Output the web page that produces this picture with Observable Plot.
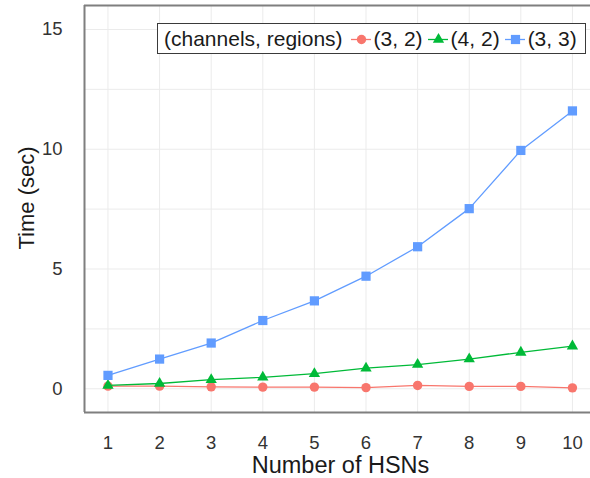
<!DOCTYPE html>
<html>
<head>
<meta charset="utf-8">
<script src="https://cdn.jsdelivr.net/npm/d3@7"></script>
<script src="https://cdn.jsdelivr.net/npm/@observablehq/plot@0.6"></script>
<style>
  body { margin: 0; background: #fff; font-family: "Liberation Sans", Arial, sans-serif; }
  #wrap { position: relative; width: 590px; height: 478px; overflow: hidden; }
  #legend {
    position: absolute; left: 157px; top: 23px; width: 427px; height: 29px;
    border: 1.6px solid #3a3a3a; background: #fff;
    display: flex; align-items: center; font-size: 21px; color: #1a1a1a;
    box-sizing: content-box; white-space: nowrap;
  }
  #legend .title { margin-left: 6px; margin-right: 8px; }
  #legend .item { display: flex; align-items: center; margin-right: 5px; }
  #legend svg { margin-right: 3px; }
</style>
</head>
<body>
<div id="wrap"><div id="legend"></div></div>
<script>
const hsn = [1, 2, 3, 4, 5, 6, 7, 8, 9, 10];
const series = ["(3, 2)", "(4, 2)", "(3, 3)"];
const time32 = [0.11, 0.11, 0.08, 0.07, 0.07, 0.05, 0.14, 0.10, 0.10, 0.04];
const time42 = [0.14, 0.22, 0.38, 0.48, 0.63, 0.86, 1.01, 1.24, 1.52, 1.78];
const time33 = [0.56, 1.24, 1.91, 2.85, 3.67, 4.70, 5.93, 7.52, 9.95, 11.60];
const yTicks = [0, 5, 10, 15];
const yGrid = [0, 2.5, 5, 7.5, 10, 12.5, 15];
const colors = ["#F8766D", "#00BA38", "#619CFF"];
const symbols = ["circle", "triangle", "square"];
const radii = [4.7, 4.2, 5.2];
const legendTitle = "(channels, regions)";

const values = [time32, time42, time33];
const data = series.flatMap((s, i) => hsn.map((x, j) => ({x, y: values[i][j], s})));

const xDom = [0.545, 10.35];
const yDom = [-0.99, 16];

const marks = [
  Plot.gridX(hsn, {stroke: "#ebebeb", strokeOpacity: 1, strokeWidth: 1}),
  Plot.gridY(yGrid, {stroke: "#ebebeb", strokeOpacity: 1, strokeWidth: 1}),
];
series.forEach((s, i) => {
  const sub = data.filter(d => d.s === s);
  marks.push(Plot.line(sub, {x: "x", y: "y", stroke: colors[i], strokeWidth: 1.3}));
  marks.push(Plot.dot(sub, {x: "x", y: "y", fill: colors[i], symbol: symbols[i], r: radii[i], stroke: "none"}));
});
marks.push(
  Plot.ruleX([xDom[0]], {stroke: "#7f7f7f", strokeWidth: 2}),
  Plot.ruleY([yDom[0], yDom[1]], {stroke: "#7f7f7f", strokeWidth: 2}),
  Plot.axisX(hsn, {tickSize: 0, tickPadding: 23, fontSize: 18.5, fill: "#333", label: null, tickFormat: d => String(d)}),
  Plot.axisY(yTicks, {tickSize: 0, tickPadding: 22, fontSize: 18.5, fill: "#333", label: null, tickFormat: d => String(d)}),
  Plot.text(["Number of HSNs"], {frameAnchor: "bottom", lineAnchor: "middle", dy: 53, dx: 3, fontSize: 23.5, fill: "#1a1a1a"}),
  Plot.text(["Time (sec)"], {frameAnchor: "left", textAnchor: "middle", lineAnchor: "middle", dx: -58, dy: -11, rotate: -90, fontSize: 22, fill: "#1a1a1a"})
);

const chart = Plot.plot({
  width: 590, height: 478,
  marginLeft: 84, marginRight: 0, marginTop: 5, marginBottom: 66,
  style: {fontFamily: "'Liberation Sans', Arial, sans-serif", background: "#fff"},
  x: {domain: xDom, axis: null},
  y: {domain: yDom, axis: null},
  marks
});
document.getElementById("wrap").prepend(chart);

// legend
const legend = document.getElementById("legend");
const t = document.createElement("span");
t.className = "title"; t.textContent = legendTitle;
legend.appendChild(t);
series.forEach((s, i) => {
  const item = document.createElement("span");
  item.className = "item";
  const sw = Plot.plot({
    width: 20, height: 20, margin: 0,
    x: {domain: [0, 1], axis: null}, y: {domain: [0, 1], axis: null},
    marks: [
      Plot.ruleY([0.5], {x1: 0, x2: 1, stroke: colors[i], strokeWidth: 1.3}),
      Plot.dot([{x: 0.5, y: 0.5}], {x: "x", y: "y", fill: colors[i], symbol: symbols[i], r: radii[i]})
    ]
  });
  item.appendChild(sw);
  const lab = document.createElement("span");
  lab.textContent = s;
  item.appendChild(lab);
  legend.appendChild(item);
});
</script>
</body>
</html>
